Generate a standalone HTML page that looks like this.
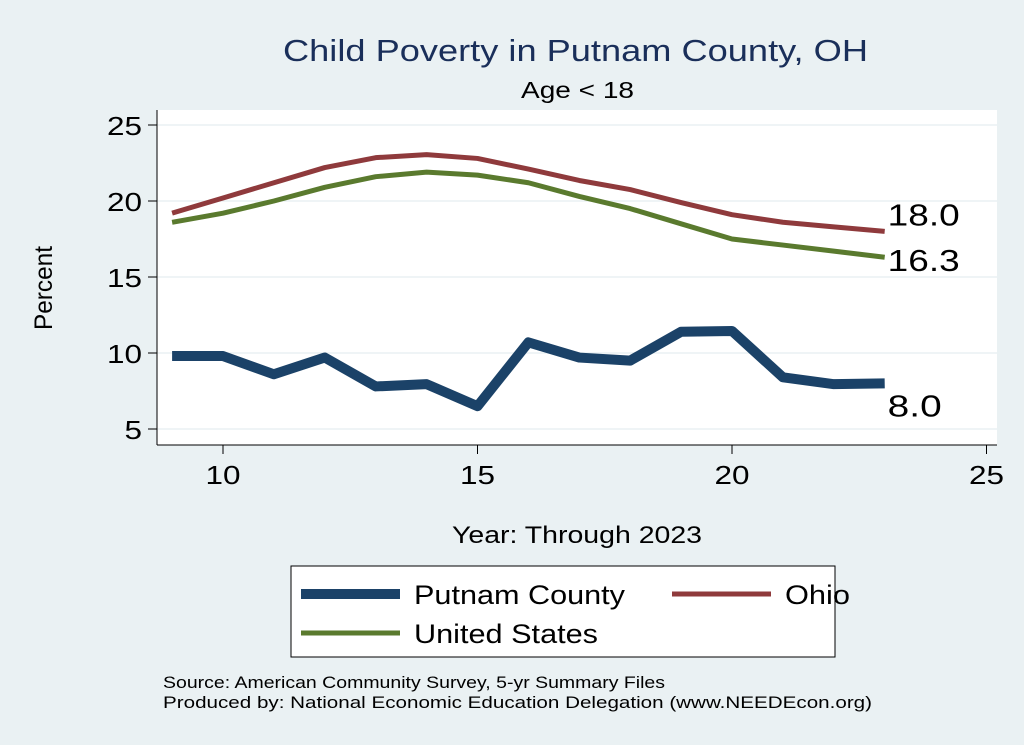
<!DOCTYPE html>
<html><head><meta charset="utf-8"><style>
html,body{margin:0;padding:0;background:#eaf1f3;}
svg{display:block;font-family:"Liberation Sans",sans-serif;}
</style></head><body>
<svg id="chart" width="1024" height="745" viewBox="0 0 1024 745">
<rect x="0" y="0" width="1024" height="745" fill="#eaf1f3"/>
<rect x="157" y="110" width="840" height="335" fill="#ffffff"/>
<text x="283" y="61" font-size="31" fill="#1a2f5a" textLength="585" lengthAdjust="spacingAndGlyphs">Child Poverty in Putnam County, OH</text>
<text x="521" y="98" font-size="23" fill="#000" textLength="113" lengthAdjust="spacingAndGlyphs">Age &lt; 18</text>
<text transform="translate(52,330) rotate(-90)" font-size="25" fill="#000" textLength="84" lengthAdjust="spacingAndGlyphs">Percent</text>
<text x="452" y="543" font-size="24" fill="#000" textLength="250" lengthAdjust="spacingAndGlyphs">Year: Through 2023</text>
<g id="grid"></g><g id="axes"></g><g id="series"></g>
<rect x="291" y="566" width="544" height="91" fill="#fff" stroke="#000" stroke-width="1"/>
<g><line x1="301" y1="594" x2="400" y2="594" stroke="#1b4268" stroke-width="10"/><text x="414" y="604" font-size="27" textLength="211" lengthAdjust="spacingAndGlyphs">Putnam County</text></g>
<g><line x1="672" y1="594" x2="771" y2="594" stroke="#8f3a3c" stroke-width="5"/><text x="785" y="604" font-size="27" textLength="65" lengthAdjust="spacingAndGlyphs">Ohio</text></g>
<g><line x1="301" y1="633" x2="400" y2="633" stroke="#5a7a2e" stroke-width="5"/><text x="414" y="643" font-size="27" textLength="184" lengthAdjust="spacingAndGlyphs">United States</text></g>
<text x="163" y="688" font-size="17" textLength="502" lengthAdjust="spacingAndGlyphs">Source: American Community Survey, 5-yr Summary Files</text>
<text x="163" y="708" font-size="17" textLength="709" lengthAdjust="spacingAndGlyphs">Produced by: National Economic Education Delegation (www.NEEDEcon.org)</text>
</svg>
<script>
const years=[9,10,11,12,13,14,15,16,17,18,19,20,21,22,23];
const putnam=[9.8,9.8,8.6,9.7,7.8,7.95,6.5,10.7,9.7,9.5,11.4,11.45,8.4,7.95,8.0];
const ohio=[19.2,20.2,21.2,22.2,22.85,23.05,22.8,22.1,21.35,20.75,19.9,19.1,18.6,18.3,18.0];
const us=[18.6,19.2,20.0,20.9,21.6,21.9,21.7,21.2,20.3,19.5,18.5,17.5,17.1,16.7,16.3];
const xTicks=[10,15,20,25];
const yTicks=[5,10,15,20,25];
const NS='http://www.w3.org/2000/svg';
const X=v=>223+(v-10)*50.9;
const Y=v=>429-(v-5)*15.2;
const grid=document.getElementById('grid'),axes=document.getElementById('axes'),ser=document.getElementById('series');
function mk(tag,attrs,parent){const e=document.createElementNS(NS,tag);for(const k in attrs)e.setAttribute(k,attrs[k]);parent.appendChild(e);return e;}
mk('line',{x1:157,y1:445,x2:997,y2:445,stroke:'#000','stroke-width':1},axes);
mk('line',{x1:157,y1:110,x2:157,y2:445,stroke:'#000','stroke-width':1},axes);
yTicks.forEach(t=>{
 const g=mk('line',{x1:157,x2:997,y1:Y(t),y2:Y(t),stroke:'#eaf1f3','stroke-width':1.5},grid);
 
 
 mk('line',{x1:148,x2:157,y1:Y(t),y2:Y(t),stroke:'#000'},axes);
 const tx=mk('text',{x:142,y:Y(t)+10,'text-anchor':'end','font-size':26,textLength:String(t).length*17.5,lengthAdjust:'spacingAndGlyphs'},axes);tx.textContent=t;
 
 
});
xTicks.forEach(t=>{
 mk('line',{x1:X(t),x2:X(t),y1:445,y2:454,stroke:'#000'},axes);
 const tx=mk('text',{x:X(t),y:484,'text-anchor':'middle','font-size':26,textLength:String(t).length*17.5,lengthAdjust:'spacingAndGlyphs'},axes);tx.textContent=t;
 
 
});
function line(vals,color,w,name){
 const d=vals.map((v,i)=>(i?'L':'M')+X(years[i])+','+Y(v)).join(' ');
 const p=mk('path',{d:d,fill:'none',stroke:color,'stroke-width':w,'stroke-linejoin':'round'},ser);
 
 
}
line(us,'#5a7a2e',5,'us-line');
line(ohio,'#8f3a3c',5,'ohio-line');
line(putnam,'#1b4268',10,'putnam-line');
function lab(vals,dy,name){
 const v=vals[vals.length-1];
 const s=v.toFixed(1);
 const t=mk('text',{x:X(years[years.length-1])+3,y:Y(v)+dy,'font-size':31,textLength:s.length*18,lengthAdjust:'spacingAndGlyphs'},ser);
 t.textContent=s;
 
 
}
lab(ohio,-6,'ohio-end-label');
lab(us,14,'us-end-label');
lab(putnam,33,'putnam-end-label');
</script>
</body></html>
